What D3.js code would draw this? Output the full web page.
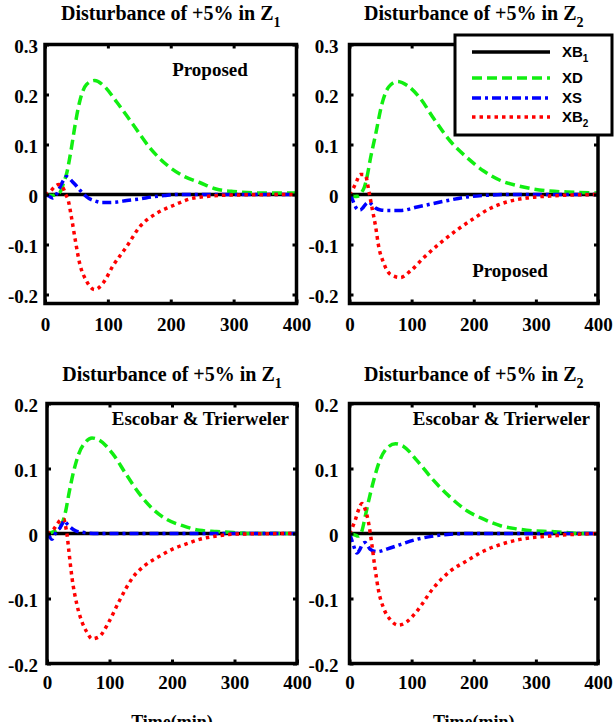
<!DOCTYPE html>
<html>
<head>
<meta charset="utf-8">
<script src="https://cdn.jsdelivr.net/npm/d3@7"></script>
<style>
  body { margin: 0; background: #fff; }
  text { font-family: "Liberation Serif", "Times New Roman", serif; font-weight: bold; fill: #000; }
  .leg text { font-family: "Liberation Sans", Arial, sans-serif; }
</style>
</head>
<body>
<svg id="chart" width="616" height="722"></svg>
<script>
// tick labels
var xTicks = [0, 100, 200, 300, 400];
var yTicksTop = [-0.2, -0.1, 0, 0.1, 0.2, 0.3];
var yTicksBottom = [-0.2, -0.1, 0, 0.1, 0.2];
var seriesNames = ["XB1", "XD", "XS", "XB2"];

// XB1 stays at zero in every panel
var xb1Zero = [[0, 0], [400, 0]];

// Proposed, disturbance in Z1  ([time, deviation])
var propZ1XD = [[0,0],[12,-0.002],[20,0.002],[24,0.005],[30,0.025],[34,0.04],[42,0.093],[48,0.14],[55,0.185],[66,0.22],[79,0.228],[93,0.218],[114,0.185],[140,0.14],[167,0.093],[193,0.06],[220,0.037],[246,0.024],[272,0.011],[299,0.006],[350,0.003],[400,0.003]];
var propZ1XS = [[0,0],[6,-0.003],[12,-0.007],[18,0],[24,0.015],[30,0.03],[34,0.036],[38,0.033],[44,0.025],[50,0.017],[56,0.008],[62,0],[70,-0.008],[80,-0.013],[90,-0.016],[100,-0.016],[115,-0.015],[130,-0.012],[150,-0.009],[170,-0.005],[190,-0.002],[210,0],[400,0]];
var propZ1XB2 = [[0,0],[8,0.006],[15,0.015],[22,0.02],[28,0.015],[33,0],[37,-0.012],[42,-0.045],[48,-0.09],[55,-0.137],[66,-0.173],[79,-0.19],[93,-0.176],[108,-0.143],[130,-0.104],[151,-0.064],[177,-0.038],[204,-0.022],[230,-0.009],[257,-0.004],[300,-0.001],[400,0]];

// Proposed, disturbance in Z2
var propZ2XD = [[0,0],[8,-0.004],[15,-0.003],[20,0.005],[24,0.015],[28,0.034],[34,0.074],[42,0.12],[52,0.18],[63,0.215],[77,0.226],[93,0.218],[114,0.192],[135,0.153],[162,0.107],[189,0.074],[216,0.047],[243,0.028],[269,0.018],[296,0.011],[323,0.007],[350,0.005],[400,0.003]];
var propZ2XS = [[0,0],[4,-0.008],[8,-0.02],[13,-0.03],[17,-0.031],[22,-0.026],[27,-0.018],[31,-0.015],[36,-0.02],[42,-0.027],[50,-0.031],[61,-0.032],[82,-0.032],[109,-0.025],[135,-0.018],[162,-0.011],[189,-0.005],[216,-0.002],[250,0],[400,0]];
var propZ2XB2 = [[0,0],[6,0.012],[12,0.028],[17,0.04],[22,0.04],[26,0.037],[31,0.008],[36,-0.025],[42,-0.064],[47,-0.104],[55,-0.137],[66,-0.16],[82,-0.166],[98,-0.153],[119,-0.127],[146,-0.097],[173,-0.071],[200,-0.048],[226,-0.028],[253,-0.015],[285,-0.007],[323,-0.003],[400,0]];

// Escobar & Trierweler, disturbance in Z1
var escZ1XD = [[0,0],[13,0.004],[20,0.01],[24,0.015],[30,0.035],[35,0.061],[43,0.097],[51,0.123],[62,0.141],[72,0.147],[83,0.144],[105,0.123],[126,0.092],[148,0.061],[169,0.038],[191,0.022],[217,0.012],[244,0.005],[271,0.003],[298,0.0015],[320,0],[400,0]];
var escZ1XS = [[0,0],[4,-0.005],[8,-0.009],[12,-0.002],[16,0.004],[21,0.009],[25,0.016],[28,0.02],[32,0.015],[38,0.009],[46,0.004],[56,0.002],[80,0],[400,0]];
var escZ1XB2 = [[0,0],[6,0.003],[11,0.007],[16,0.014],[21,0.02],[27,0.022],[30,0.01],[32,-0.001],[35,-0.027],[40,-0.068],[48,-0.11],[56,-0.136],[64,-0.152],[72,-0.162],[83,-0.159],[99,-0.136],[115,-0.105],[137,-0.068],[158,-0.048],[180,-0.035],[201,-0.024],[223,-0.016],[244,-0.009],[271,-0.004],[298,-0.001],[400,0]];

// Escobar & Trierweler, disturbance in Z2
var escZ2XD = [[0,0],[8,-0.002],[14,-0.004],[20,0.004],[25,0.025],[31,0.051],[39,0.082],[49,0.113],[60,0.131],[74,0.138],[87,0.134],[108,0.113],[135,0.082],[162,0.056],[189,0.035],[216,0.022],[243,0.012],[270,0.007],[296,0.004],[323,0.003],[350,0.0015],[370,0],[400,0]];
var escZ2XS = [[0,0],[3,-0.008],[6,-0.017],[12,-0.03],[17,-0.024],[21,-0.016],[25,-0.014],[29,-0.018],[33,-0.024],[44,-0.028],[60,-0.024],[82,-0.017],[108,-0.009],[135,-0.004],[162,-0.001],[200,0],[400,0]];
var escZ2XB2 = [[0,0],[4,0.008],[9,0.02],[14,0.035],[20,0.046],[25,0.038],[31,0.015],[36,-0.017],[41,-0.053],[47,-0.089],[55,-0.115],[66,-0.133],[79,-0.141],[92,-0.136],[108,-0.12],[135,-0.084],[162,-0.058],[189,-0.042],[216,-0.027],[243,-0.017],[270,-0.01],[296,-0.006],[323,-0.004],[350,-0.002],[400,0]];

// line styles, in seriesNames order
var styles = [
  {color: "#000000", dash: null, width: 3.5},
  {color: "#11ee11", dash: "10,5", width: 3.5},
  {color: "#0000ff", dash: "9,4,3,4", width: 3.5},
  {color: "#ff0000", dash: "3.5,4", width: 3.5}
];

var panels = [
  {z: "1", label: "Proposed", lx: 210, ly: 76, anchor: "middle",
   left: 45, right: 296.5, top: 44.5, bottom: 303.5, ydom: [-0.218, 0.3], yticks: yTicksTop, pad: 7, titleY: 20, xlabY: 27,
   series: [xb1Zero, propZ1XD, propZ1XS, propZ1XB2]},
  {z: "2", label: "Proposed", lx: 510, ly: 277, anchor: "middle",
   left: 349.5, right: 598, top: 44.5, bottom: 303.5, ydom: [-0.218, 0.3], yticks: yTicksTop, pad: 11, titleY: 20, xlabY: 27,
   series: [xb1Zero, propZ2XD, propZ2XS, propZ2XB2], legend: true},
  {z: "1", label: "Escobar & Trierweler", lx: 289, ly: 425, anchor: "end",
   left: 47, right: 297, top: 403.5, bottom: 663.5, ydom: [-0.2, 0.2], yticks: yTicksBottom, pad: 9, titleY: 381, xlabY: 25, xtitle: true,
   series: [xb1Zero, escZ1XD, escZ1XS, escZ1XB2]},
  {z: "2", label: "Escobar & Trierweler", lx: 590, ly: 425, anchor: "end",
   left: 349.5, right: 598, top: 403.5, bottom: 663.5, ydom: [-0.2, 0.2], yticks: yTicksBottom, pad: 11, titleY: 381, xlabY: 25, xtitle: true,
   series: [xb1Zero, escZ2XD, escZ2XS, escZ2XB2]}
];

// matlab style labels: plain hyphen, no leading "−"
function yFmt(d) { return d == 0 ? "0" : d3.format(".1f")(d).replace("\u2212", "-"); }

var svg = d3.select("#chart");
svg.append("rect").attr("width", 616).attr("height", 722).attr("fill", "#fff");

panels.forEach(function(p, i) {
  var x = d3.scaleLinear().domain([0, 400]).range([p.left, p.right]);
  var y = d3.scaleLinear().domain(p.ydom).range([p.bottom, p.top]);
  var g = svg.append("g");

  var line = d3.line()
      .x(function(d) { return x(d[0]); })
      .y(function(d) { return y(d[1]); })
      .curve(d3.curveMonotoneX);

  g.append("clipPath").attr("id", "clip" + i)
    .append("rect")
      .attr("x", p.left).attr("y", p.top)
      .attr("width", p.right - p.left).attr("height", p.bottom - p.top);

  var plot = g.append("g").attr("clip-path", "url(#clip" + i + ")");
  p.series.forEach(function(s, k) {
    var st = styles[k];
    plot.append("path")
      .datum(s)
      .attr("d", line)
      .attr("fill", "none")
      .attr("stroke", st.color)
      .attr("stroke-width", st.width)
      .attr("stroke-dasharray", st.dash);
  });

  // axes, ticks pointing inward
  var yAxis = g.append("g")
      .attr("transform", "translate(" + p.left + ",0)")
      .call(d3.axisLeft(y).tickValues(p.yticks).tickSizeInner(-4).tickSizeOuter(0).tickPadding(p.pad).tickFormat(yFmt));
  yAxis.select(".domain").remove();
  yAxis.selectAll("line").attr("stroke", "#000").attr("stroke-width", 3);
  yAxis.selectAll("text").attr("font-size", 19).attr("dy", "0.42em")
    .style("font-family", "Liberation Serif").style("font-weight", "bold");

  var yAxisR = g.append("g")
      .attr("transform", "translate(" + p.right + ",0)")
      .call(d3.axisRight(y).tickValues(p.yticks).tickSizeInner(-4).tickSizeOuter(0).tickFormat(""));
  yAxisR.select(".domain").remove();
  yAxisR.selectAll("line").attr("stroke", "#000").attr("stroke-width", 3);

  var xAxis = g.append("g")
      .attr("transform", "translate(0," + p.bottom + ")")
      .call(d3.axisBottom(x).tickValues(xTicks).tickSizeInner(-4).tickSizeOuter(0).tickFormat(d3.format("d")));
  xAxis.select(".domain").remove();
  xAxis.selectAll("line").attr("stroke", "#000").attr("stroke-width", 3);
  xAxis.selectAll("text").attr("font-size", 19).attr("y", p.xlabY).attr("dy", 0)
    .style("font-family", "Liberation Serif").style("font-weight", "bold");

  var xAxisT = g.append("g")
      .attr("transform", "translate(0," + p.top + ")")
      .call(d3.axisTop(x).tickValues(xTicks).tickSizeInner(-4).tickSizeOuter(0).tickFormat(""));
  xAxisT.select(".domain").remove();
  xAxisT.selectAll("line").attr("stroke", "#000").attr("stroke-width", 3);

  // frame
  g.append("rect")
    .attr("x", p.left).attr("y", p.top)
    .attr("width", p.right - p.left).attr("height", p.bottom - p.top)
    .attr("fill", "none").attr("stroke", "#000").attr("stroke-width", 3.5);

  // title with subscript
  var t = g.append("text")
    .attr("x", (p.left + p.right) / 2)
    .attr("y", p.titleY)
    .attr("text-anchor", "middle")
    .attr("font-size", 20);
  t.append("tspan").text("Disturbance of +5% in Z");
  t.append("tspan").attr("dy", 7).attr("font-size", 14).text(p.z);

  g.append("text")
    .attr("x", p.lx).attr("y", p.ly)
    .attr("text-anchor", p.anchor)
    .attr("font-size", 19)
    .text(p.label);

  if (p.xtitle) {
    g.append("text")
      .attr("x", (p.left + p.right) / 2)
      .attr("y", 728)
      .attr("text-anchor", "middle")
      .attr("font-size", 18)
      .text("Time(min)");
  }

  if (p.legend) {
    var leg = svg.append("g").attr("class", "leg");
    leg.append("rect")
      .attr("x", 455).attr("y", 35).attr("width", 157).attr("height", 100)
      .attr("fill", "#fff").attr("stroke", "#000").attr("stroke-width", 3);
    var rows = [52, 78, 98, 117];
    seriesNames.forEach(function(n, k) {
      var st = styles[k];
      leg.append("line")
        .attr("x1", 472).attr("x2", 550)
        .attr("y1", rows[k]).attr("y2", rows[k])
        .attr("stroke", st.color).attr("stroke-width", st.width)
        .attr("stroke-dasharray", st.dash);
      var lt = leg.append("text")
        .attr("x", 562).attr("y", rows[k] + 5)
        .attr("font-size", 15);
      var base = n.replace(/\d$/, "");
      var sub = n.slice(base.length);
      lt.append("tspan").text(base);
      if (sub) lt.append("tspan").attr("dy", 5).attr("font-size", 10).text(sub);
    });
  }
});
</script>
</body>
</html>
